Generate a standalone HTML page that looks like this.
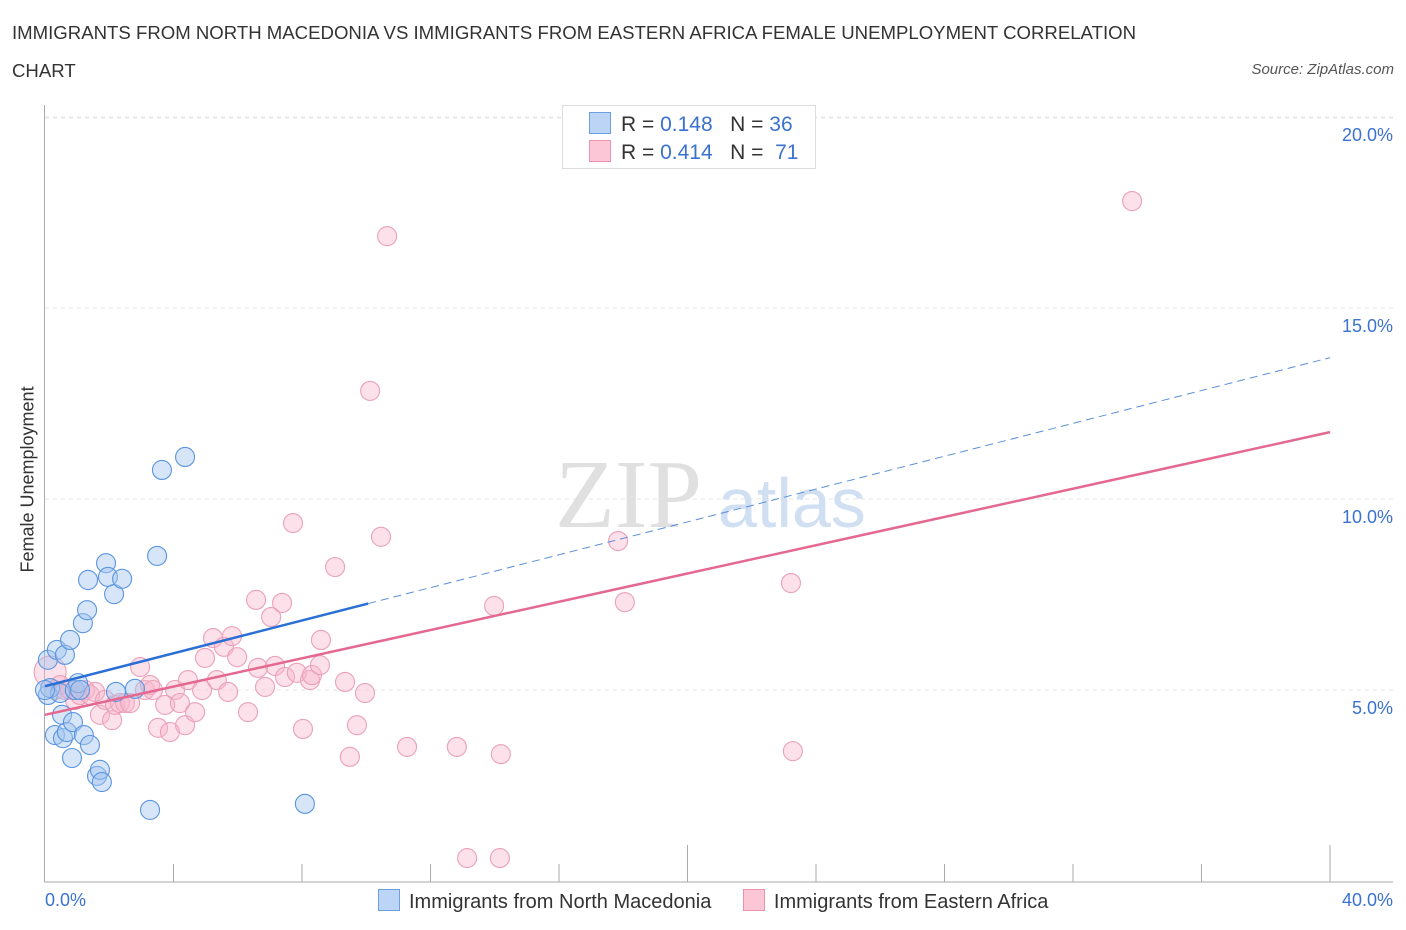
<!DOCTYPE html>
<html><head><meta charset="utf-8"><style>
body{margin:0;background:#fff;font-family:"Liberation Sans",sans-serif;}
#wrap{position:relative;width:1406px;height:930px;overflow:hidden}
.t{position:absolute;white-space:nowrap}
</style></head><body>
<div id="wrap">
<div class="t" style="left:12px;top:14px;font-size:18.6px;color:#333;line-height:38px">IMMIGRANTS FROM NORTH MACEDONIA VS IMMIGRANTS FROM EASTERN AFRICA FEMALE UNEMPLOYMENT CORRELATION<br>CHART</div>
<div class="t" style="right:12px;top:61px;font-size:15px;color:#555;font-style:italic">Source: ZipAtlas.com</div>
<svg id="svg" width="1406" height="930" style="position:absolute;left:0;top:0"></svg>
</div>
<script>
const blueX=[0.09,0.09,0.16,0.31,0.37,0.47,0.53,0.56,0.62,0.68,0.78,0.84,0.87,0.93,1.03,1.09,1.18,1.21,1.31,1.34,1.40,1.62,1.71,1.77,1.90,1.96,2.15,2.21,2.40,2.80,3.27,3.49,3.64,4.36,8.09,0.0];
const blueY=[5.79,4.87,5.05,3.82,6.05,4.92,4.35,3.74,5.92,3.90,6.31,3.22,4.16,5.0,5.18,5.0,6.75,3.82,7.09,7.88,3.56,2.75,2.91,2.59,8.32,7.96,7.51,4.95,7.91,5.03,1.86,8.51,10.76,11.10,2.02,5.0];
const pinkX=[0.16,0.31,0.47,0.62,0.78,0.93,1.09,1.25,1.40,1.56,1.71,1.87,2.09,2.18,2.33,2.49,2.65,2.96,3.11,3.27,3.36,3.52,3.74,3.89,4.05,4.20,4.36,4.45,4.67,4.89,4.98,5.23,5.35,5.57,5.70,5.82,5.98,6.32,6.57,6.63,6.85,7.04,7.16,7.38,7.47,7.72,7.84,8.03,8.25,8.31,8.56,8.59,9.03,9.34,9.49,9.71,9.96,10.12,10.46,10.65,11.27,12.82,13.14,13.98,14.16,14.19,17.84,18.05,23.22,23.28,33.84];
const pinkY=[5.47,5.0,5.13,5.0,5.0,4.74,4.87,5.0,4.87,4.95,4.35,4.74,4.21,4.61,4.66,4.66,4.66,5.60,5.0,5.13,5.0,4.01,4.61,3.90,5.0,4.66,4.08,5.26,4.42,5.0,5.84,6.36,5.26,6.13,4.95,6.41,5.86,4.42,7.36,5.58,5.08,6.91,5.63,7.28,5.34,9.37,5.45,3.98,5.26,5.39,5.65,6.31,8.22,5.21,3.25,4.08,4.92,12.83,9.01,16.88,3.51,3.51,0.60,7.20,0.60,3.32,8.90,7.30,7.80,3.40,17.80];
const blueLine=[5.1,0.215]; // intercept, slope
const pinkLine=[4.35,0.185];
const yTicks=[5,10,15,20];
const yTickLabels=["5.0%","10.0%","15.0%","20.0%"];
const NS="http://www.w3.org/2000/svg";
const svg=document.getElementById('svg');
const X=v=>45+v*32.125, Y=v=>881-v*38.2;
function mk(tag,at,name){const e=document.createElementNS(NS,tag);for(const k in at)e.setAttribute(k,at[k]);


svg.appendChild(e);return e;}
yTicks.forEach((t,i)=>{
 mk('line',{x1:45,x2:1393,y1:Y(t),y2:Y(t),stroke:'#e6e6e6','stroke-dasharray':'4,4'},'y-gridline');
 const tx=mk('text',{x:1393,y:Y(t)+24,'text-anchor':'end','font-size':18,fill:'#3a72d0','font-family':'Liberation Sans'},'y-tick-label');tx.textContent=yTickLabels[i];
});
mk('line',{x1:45,x2:1393,y1:118,y2:118,stroke:'#e6e6e6','stroke-dasharray':'4,4'},'y-gridline');
mk('line',{x1:44.5,x2:44.5,y1:105,y2:882,stroke:'#aaa'},'y-axis');
mk('line',{x1:44,x2:1393,y1:882,y2:882,stroke:'#aaa'},'x-axis');
for(let i=1;i<=10;i++){const x=45+i*128.5;mk('line',{x1:x,x2:x,y1:(i==5||i==10)?845:864,y2:882,stroke:'#aaa'},'x-tick');}
const wm=mk('text',{x:555,y:527,'font-size':98,fill:'#e0e0e0','font-family':'Liberation Serif'},'watermark-zip');wm.textContent='ZIP';
const wm2=mk('text',{x:718,y:527,'font-size':70,fill:'#d0dff2','font-family':'Liberation Sans'},'watermark-atlas');wm2.textContent='atlas';
pinkX.forEach((v,i)=>mk('circle',{cx:X(v),cy:Y(pinkY[i]),r:i==0?16:9.5,fill:'rgba(248,180,202,0.4)',stroke:'#eba0b8','stroke-width':1.1},'pink-point'));
blueX.forEach((v,i)=>mk('circle',{cx:X(v),cy:Y(blueY[i]),r:9.5,fill:'rgba(165,198,240,0.45)',stroke:'#5b95e0','stroke-width':1.1},'blue-point'));
mk('line',{x1:X(0),y1:Y(blueLine[0]),x2:X(10.06),y2:Y(blueLine[0]+blueLine[1]*10.06),stroke:'#2a6fd6','stroke-width':2.5},'blue-trend-line');
mk('line',{x1:X(10.06),y1:Y(blueLine[0]+blueLine[1]*10.06),x2:X(40),y2:Y(blueLine[0]+blueLine[1]*40),stroke:'#5a8fdc','stroke-width':1,'stroke-dasharray':'8,5'},'blue-trend-extension');
mk('line',{x1:X(0),y1:Y(pinkLine[0]),x2:X(40),y2:Y(pinkLine[0]+pinkLine[1]*40),stroke:'#e4688f','stroke-width':2.5},'pink-trend-line');
</script>
<div class="t" style="left:-52px;top:482px;width:160px;text-align:center;transform:rotate(-90deg);font-size:18px;color:#333">Female Unemployment</div>
<div class="t" style="left:45px;top:890px;font-size:18px;color:#3a72d0">0.0%</div>
<div class="t" style="right:13px;top:890px;font-size:18px;color:#3a72d0">40.0%</div>
<div style="position:absolute;left:562px;top:105px;width:252px;height:62px;border:1px solid #ddd;background:#fff;font-size:21px;color:#333">
 <div style="position:absolute;left:26px;top:6px;white-space:nowrap"><span style="display:inline-block;width:20px;height:20px;background:#bcd5f7;border:1px solid #6a9fe0;vertical-align:-3px;margin-right:10px"></span>R = <span style="color:#3a72d0">0.148</span>&nbsp;&nbsp;&nbsp;N = <span style="color:#3a72d0">36</span></div>
 <div style="position:absolute;left:26px;top:34px;white-space:nowrap"><span style="display:inline-block;width:20px;height:20px;background:#fcc6d6;border:1px solid #e993ae;vertical-align:-3px;margin-right:10px"></span>R = <span style="color:#3a72d0">0.414</span>&nbsp;&nbsp;&nbsp;N = &nbsp;<span style="color:#3a72d0">71</span></div>
</div>
<div style="position:absolute;left:378px;top:889px;font-size:20px;color:#333;white-space:nowrap">
 <span style="display:inline-block;width:20px;height:20px;background:#bcd5f7;border:1px solid #6a9fe0;vertical-align:-3px;margin-right:9px"></span>Immigrants from North Macedonia
 <span style="display:inline-block;width:20px;height:20px;background:#fcc6d6;border:1px solid #e993ae;vertical-align:-3px;margin:0 9px 0 26px"></span>Immigrants from Eastern Africa
</div>
</body></html>
